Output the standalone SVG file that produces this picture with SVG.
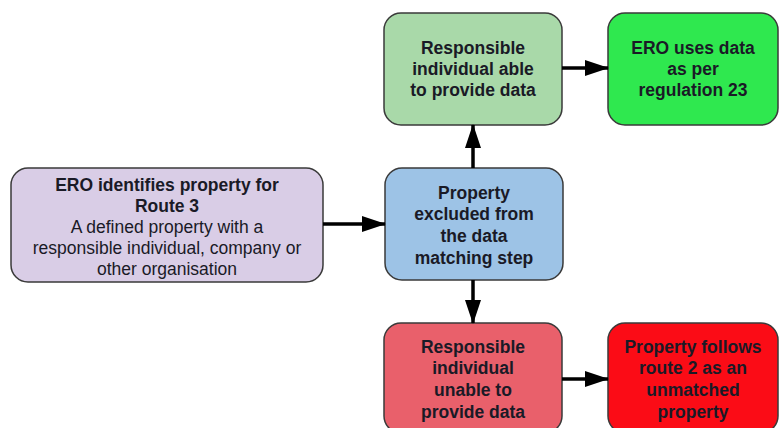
<svg xmlns="http://www.w3.org/2000/svg" width="779" height="428" viewBox="0 0 779 428">
<defs>
<marker id="ah" markerUnits="userSpaceOnUse" markerWidth="24" markerHeight="16" refX="23" refY="8" orient="auto">
<path d="M0,0 L24,8 L0,16 Z" fill="#000"/>
</marker>
<style>
.box{stroke:#3a3a3a;stroke-width:1.5}
text{font-family:"Liberation Sans",Arial,sans-serif;font-size:17.5px;fill:#1a1a26;text-anchor:middle}
.b{font-weight:bold}
.c{stroke:#000;stroke-width:3.5;fill:none;marker-end:url(#ah)}
</style>
</defs>
<rect width="779" height="428" fill="#fff"/>
<g id="n-start">
<rect class="box" x="11" y="168" width="312" height="114" rx="17" fill="#d9cde6"/>
<text class="b" x="167" y="191">ERO identifies property for</text>
<text class="b" x="167" y="212">Route 3</text>
<text x="167" y="233">A defined property with a</text>
<text x="167" y="254">responsible individual, company or</text>
<text x="167" y="275">other organisation</text>
</g>
<g id="n-excluded">
<rect class="box" x="385" y="168" width="178" height="112" rx="17" fill="#9dc3e6"/>
<text class="b" x="474" y="199">Property</text>
<text class="b" x="474" y="220">excluded from</text>
<text class="b" x="474" y="242">the data</text>
<text class="b" x="474" y="264">matching step</text>
</g>
<g id="n-able">
<rect class="box" x="384" y="13" width="178" height="112" rx="17" fill="#a9d9a9"/>
<text class="b" x="473" y="54">Responsible</text>
<text class="b" x="473" y="75">individual able</text>
<text class="b" x="473" y="96">to provide data</text>
</g>
<g id="n-uses">
<rect class="box" x="608" y="13" width="170" height="112" rx="17" fill="#2fe84f"/>
<text class="b" x="693" y="54">ERO uses data</text>
<text class="b" x="693" y="75">as per</text>
<text class="b" x="693" y="96">regulation 23</text>
</g>
<g id="n-unable">
<rect class="box" x="384" y="323" width="178" height="110" rx="17" fill="#e9606b"/>
<text class="b" x="473" y="353">Responsible</text>
<text class="b" x="473" y="374">individual</text>
<text class="b" x="473" y="396">unable to</text>
<text class="b" x="473" y="418">provide data</text>
</g>
<g id="n-route2">
<rect class="box" x="608" y="323" width="170" height="110" rx="17" fill="#fb0c16"/>
<text class="b" x="693" y="353">Property follows</text>
<text class="b" x="693" y="374">route 2 as an</text>
<text class="b" x="693" y="396">unmatched</text>
<text class="b" x="693" y="418">property</text>
</g>
<g id="connectors">
<line class="c" x1="323" y1="224" x2="385" y2="224"/>
<line class="c" x1="473" y1="168" x2="473" y2="125"/>
<line class="c" x1="473" y1="280" x2="473" y2="323"/>
<line class="c" x1="562" y1="68" x2="608" y2="68"/>
<line class="c" x1="562" y1="379" x2="608" y2="379"/>
</g>
</svg>
